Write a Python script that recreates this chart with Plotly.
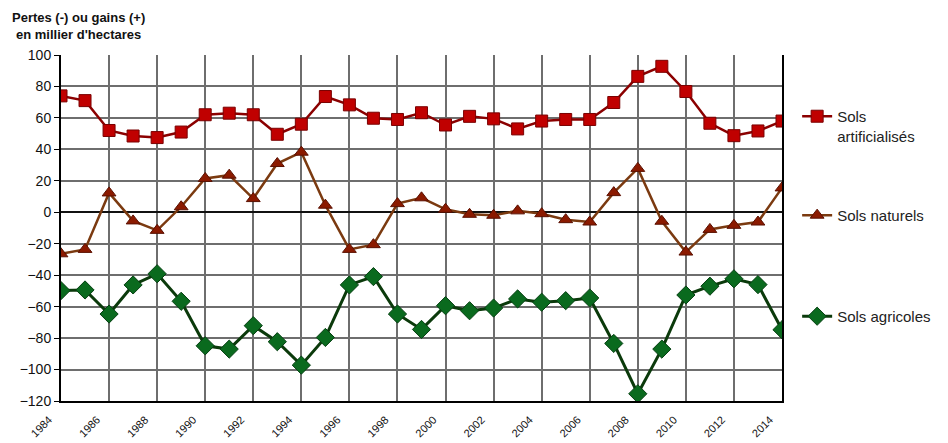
import plotly.graph_objects as go

years = list(range(1984, 2015))
tick_years = list(range(1984, 2015, 2))
tick_labels = [str(y) for y in tick_years]

sols_artificialises = [74, 71, 52, 48.5, 47.5, 51, 62, 63, 62, 49.6, 56, 73.6, 68.3, 59.8, 59,
                       63.3, 55.5, 61, 59.4, 53, 58, 59, 59, 69.8, 86.4, 92.8, 76.8, 56.6, 48.7, 51.7, 58]
sols_naturels = [-26.4, -23.6, 12.3, -5.5, -11.5, 3.5, 21.5, 23.6, 8.7, 31, 38.2, 4.5, -23.6, -20.6, 5.5,
                 9.2, 1.9, -1.3, -1.9, 0.9, -0.9, -4.7, -6.2, 12.5, 27.9, -5.7, -25.3, -10.9, -8.3, -6.2, 15.5]
sols_agricoles = [-49.8, -49.4, -64.7, -46.2, -39.1, -56.6, -84.9, -87, -72.1, -82.3, -97.2, -79.6, -46.2, -40.9, -64.7,
                  -74.5, -59.4, -62.6, -60.9, -55.1, -57.2, -56.2, -54.5, -83.4, -115.4, -87, -52.6, -47, -42.3, -46, -74.7]

font_family = "Liberation Sans, Arial, sans-serif"

fig = go.Figure()
fig.add_trace(go.Scatter(
    x=years, y=sols_artificialises, name="Sols<br>artificialisés", mode="lines+markers",
    line=dict(color="#8B0000", width=2.5),
    marker=dict(symbol="square", size=12, color="#C00000", line=dict(color="#7A0000", width=1)),
    legend="legend"))
fig.add_trace(go.Scatter(
    x=years, y=sols_naturels, name="Sols naturels", mode="lines+markers",
    line=dict(color="#7B3A10", width=2.5),
    marker=dict(symbol="triangle-up", size=12, color="#8B1A00", line=dict(color="#5A1000", width=1)),
    legend="legend2"))
fig.add_trace(go.Scatter(
    x=years, y=sols_agricoles, name="Sols agricoles", mode="lines+markers",
    line=dict(color="#0B3A0B", width=3),
    marker=dict(symbol="diamond", size=14, color="#0A6A1E", line=dict(color="#064012", width=1)),
    legend="legend3"))

leg_common = dict(x=1.021, xanchor="left", yanchor="top", valign="top",
                  font=dict(size=15, color="#222222"), itemwidth=30,
                  bgcolor="rgba(0,0,0,0)")

fig.update_layout(
    width=948, height=443,
    margin=dict(l=51, r=174, t=47, b=50),
    paper_bgcolor="white", plot_bgcolor="white",
    font=dict(family=font_family, color="#111111"),
    showlegend=True,
    legend=dict(y=0.870, **leg_common),
    legend2=dict(y=0.584, **leg_common),
    legend3=dict(y=0.292, **leg_common),
    xaxis=dict(range=[1984, 2014], tickvals=tick_years, ticktext=tick_labels,
               tickangle=-45, tickfont=dict(size=11, color="#111111"),
               ticklabelshift=-12, ticklabelstandoff=6,
               showgrid=True, gridcolor="#6e6e6e", gridwidth=1.5,
               showline=True, linecolor="black", linewidth=2,
               ticks="", zeroline=False),
    yaxis=dict(range=[-120, 100], dtick=20, tickfont=dict(size=14, color="#111111"),
               showgrid=True, gridcolor="#6e6e6e", gridwidth=1.5,
               showline=True, linecolor="black", linewidth=2, mirror=True,
               ticks="outside", ticklen=5, tickcolor="black",
               zeroline=True, zerolinecolor="#111111", zerolinewidth=1.5),
    annotations=[dict(text="<b>Pertes (-) ou gains (+)<br>en millier d'hectares</b>",
                      xref="paper", yref="paper", x=0, y=1.0, xshift=-51, yshift=47,
                      xanchor="left", yanchor="top", showarrow=False, align="center",
                      font=dict(size=13, color="#111111"))],
)

fig.write_html("out.html")
